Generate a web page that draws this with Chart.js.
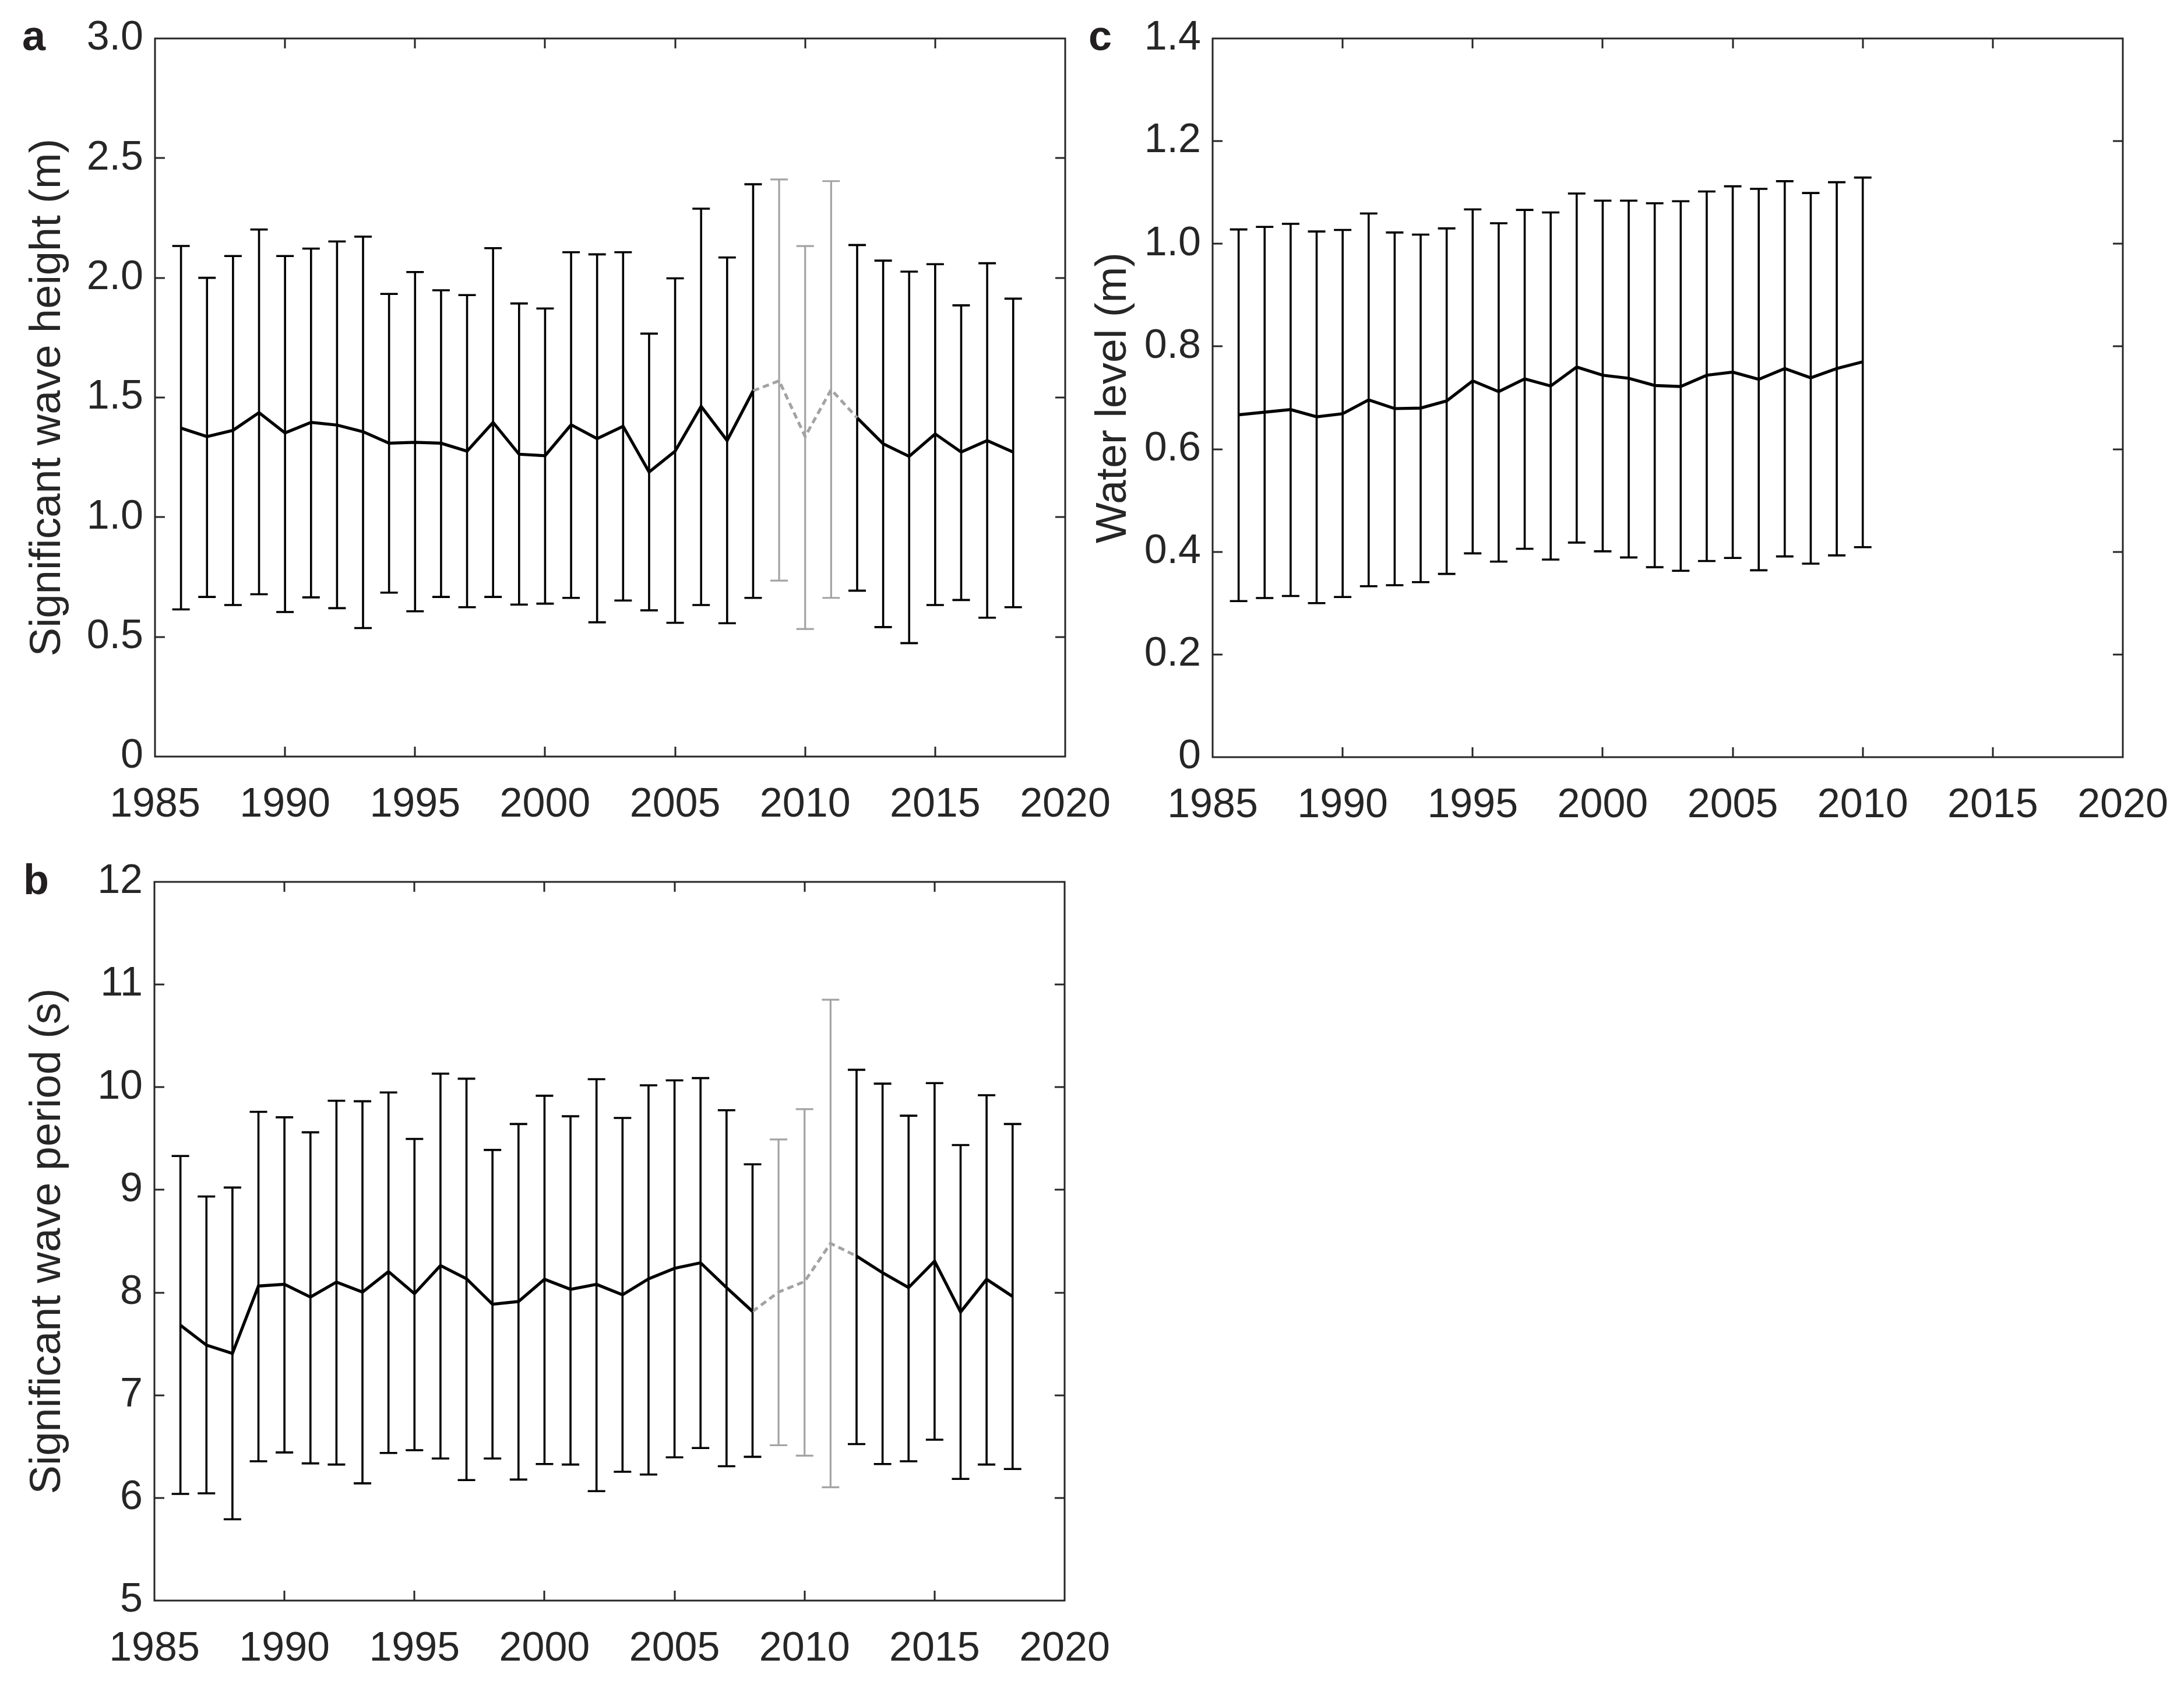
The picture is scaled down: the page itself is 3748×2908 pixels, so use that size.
<!DOCTYPE html>
<html>
<head>
<meta charset="utf-8">
<script src="https://cdn.jsdelivr.net/npm/chart.js@4.4.0/dist/chart.umd.min.js"></script>
<style>
  html, body { margin: 0; padding: 0; background: #ffffff; }
  body { width: 3748px; height: 2908px; position: relative; overflow: hidden; }
  canvas { position: absolute; }
</style>
</head>
<body>
<canvas id="chartA" width="1960" height="1440" style="left:0px;top:0px"></canvas>
<canvas id="chartC" width="1935" height="1440" style="left:1840px;top:0px"></canvas>
<canvas id="chartB" width="1960" height="1468" style="left:0px;top:1440px"></canvas>
<script>
// years shown in panels a and b
var years = [1986, 1987, 1988, 1989, 1990, 1991, 1992, 1993, 1994, 1995, 1996,
  1997, 1998, 1999, 2000, 2001, 2002, 2003, 2004, 2005, 2006, 2007, 2008,
  2009, 2010, 2011, 2012, 2013, 2014, 2015, 2016, 2017, 2018];
// years drawn in grey (incomplete data)
var gapYears = [2009, 2010, 2011];

// a - significant wave height (m)
var hsMean = [1.372, 1.337, 1.363, 1.437, 1.352, 1.396, 1.385, 1.357, 1.309, 1.313, 1.309,
  1.276, 1.396, 1.263, 1.257, 1.386, 1.328, 1.380, 1.189, 1.276, 1.463, 1.320, 1.528,
  1.570, 1.337, 1.533, 1.415, 1.307, 1.254, 1.348, 1.272, 1.320, 1.272];
var hsHigh = [2.133, 2.000, 2.091, 2.202, 2.091, 2.122, 2.152, 2.172, 1.933, 2.024, 1.948,
  1.928, 2.124, 1.893, 1.872, 2.107, 2.098, 2.107, 1.767, 1.998, 2.289, 2.085, 2.391,
  2.411, 2.133, 2.404, 2.137, 2.072, 2.026, 2.057, 1.885, 2.061, 1.913];
var hsLow = [0.615, 0.667, 0.633, 0.678, 0.604, 0.665, 0.620, 0.537, 0.685, 0.607, 0.667,
  0.624, 0.667, 0.635, 0.639, 0.663, 0.561, 0.652, 0.611, 0.559, 0.633, 0.557, 0.663,
  0.735, 0.533, 0.663, 0.693, 0.541, 0.474, 0.633, 0.654, 0.580, 0.624];

// b - significant wave period (s)
var tpMean = [7.682, 7.488, 7.407, 8.064, 8.080, 7.956, 8.102, 8.005, 8.204, 7.989, 8.263,
  8.134, 7.886, 7.913, 8.129, 8.032, 8.080, 7.978, 8.134, 8.236, 8.290, 8.048, 7.816,
  8.005, 8.107, 8.479, 8.355, 8.193, 8.048, 8.306, 7.811, 8.129, 7.962];
var tpHigh = [9.330, 8.936, 9.023, 9.760, 9.707, 9.561, 9.868, 9.863, 9.949, 9.496, 10.132,
  10.083, 9.389, 9.642, 9.917, 9.717, 10.078, 9.701, 10.019, 10.067, 10.089, 9.776, 9.249,
  9.491, 9.787, 10.853, 10.170, 10.035, 9.723, 10.040, 9.437, 9.922, 9.642];
var tpLow = [6.039, 6.045, 5.792, 6.357, 6.443, 6.336, 6.325, 6.142, 6.438, 6.465, 6.384,
  6.174, 6.384, 6.179, 6.330, 6.325, 6.066, 6.255, 6.228, 6.395, 6.486, 6.309, 6.400,
  6.513, 6.411, 6.104, 6.524, 6.330, 6.357, 6.567, 6.185, 6.325, 6.282];

// c - water level (m), only up to 2010
var wlYears = [1986, 1987, 1988, 1989, 1990, 1991, 1992, 1993, 1994, 1995, 1996, 1997,
  1998, 1999, 2000, 2001, 2002, 2003, 2004, 2005, 2006, 2007, 2008, 2009, 2010];
var wlMean = [0.667, 0.672, 0.677, 0.663, 0.669, 0.696, 0.679, 0.680, 0.694, 0.733, 0.712,
  0.737, 0.723, 0.760, 0.744, 0.738, 0.724, 0.722, 0.744, 0.750, 0.736, 0.757, 0.739,
  0.757, 0.770];
var wlHigh = [1.028, 1.033, 1.039, 1.024, 1.027, 1.059, 1.022, 1.018, 1.030, 1.067, 1.040,
  1.066, 1.061, 1.098, 1.084, 1.084, 1.079, 1.083, 1.102, 1.112, 1.107, 1.122, 1.099,
  1.120, 1.129];
var wlLow = [0.304, 0.310, 0.314, 0.300, 0.312, 0.333, 0.335, 0.341, 0.357, 0.397, 0.381,
  0.406, 0.385, 0.418, 0.401, 0.389, 0.370, 0.363, 0.382, 0.388, 0.364, 0.391, 0.377,
  0.393, 0.409];

// axis ranges / tick steps
var xMin = 1985, xMax = 2020, xStep = 5;

var AXIS_COLOR = '#262626';
var GREY = '#a3a3a3';
var FONT = '"Liberation Sans", Arial, sans-serif';

// error bars, drawn under the mean line
var errorBarPlugin = {
  id: 'errorBars',
  beforeDatasetsDraw: function(chart, args, opts) {
    var ctx = chart.ctx, xs = chart.scales.x, ys = chart.scales.y;
    var cap = 15;
    ctx.save();
    ctx.lineCap = 'butt';
    for (var i = 0; i < opts.years.length; i++) {
      var px = xs.getPixelForValue(opts.years[i]);
      var top = ys.getPixelForValue(opts.high[i]);
      var bot = ys.getPixelForValue(opts.low[i]);
      var grey = opts.grey.indexOf(opts.years[i]) >= 0;
      ctx.strokeStyle = grey ? GREY : '#000000';
      ctx.lineWidth = grey ? 3.2 : 3.6;
      ctx.beginPath();
      ctx.moveTo(px, top); ctx.lineTo(px, bot);
      ctx.moveTo(px - cap, top); ctx.lineTo(px + cap, top);
      ctx.moveTo(px - cap, bot); ctx.lineTo(px + cap, bot);
      ctx.stroke();
    }
    ctx.restore();
  }
};

// matlab style box with inward ticks + panel letter
var boxPlugin = {
  id: 'boxAxes',
  afterDraw: function(chart, args, opts) {
    var ctx = chart.ctx, a = chart.chartArea;
    var xs = chart.scales.x, ys = chart.scales.y;
    var len = 17;
    ctx.save();
    ctx.strokeStyle = AXIS_COLOR;
    ctx.lineWidth = 3;
    ctx.strokeRect(a.left, a.top, a.right - a.left, a.bottom - a.top);
    ctx.beginPath();
    xs.ticks.forEach(function(t) {
      if (t.value <= xs.min || t.value >= xs.max) return;
      var px = Math.round(xs.getPixelForValue(t.value));
      ctx.moveTo(px, a.bottom); ctx.lineTo(px, a.bottom - len);
      ctx.moveTo(px, a.top); ctx.lineTo(px, a.top + len);
    });
    ys.ticks.forEach(function(t) {
      if (t.value <= ys.min || t.value >= ys.max) return;
      var py = Math.round(ys.getPixelForValue(t.value));
      ctx.moveTo(a.left, py); ctx.lineTo(a.left + len, py);
      ctx.moveTo(a.right, py); ctx.lineTo(a.right - len, py);
    });
    ctx.stroke();
    ctx.fillStyle = '#231f20';
    ctx.font = 'bold 72px ' + FONT;
    ctx.textBaseline = 'alphabetic';
    ctx.fillText(opts.letter, opts.lx, opts.ly);
    ctx.restore();
  }
};

var toPoints = function(xv, yv, skip) {
  return xv.map(function(x, i) {
    return { x: x, y: (skip && skip.indexOf(x) >= 0) ? null : yv[i] };
  });
};

var drawPanel = function(elementId, p) {
  var datasets = [{
    data: toPoints(p.years, p.mean, p.grey),
    borderColor: '#000000',
    borderWidth: 5.2,
    pointRadius: 0,
    spanGaps: false,
    tension: 0
  }];
  if (p.grey.length) {
    // dashed grey segment across the gap years
    var first = p.years.indexOf(p.grey[0]) - 1;
    var last = p.years.indexOf(p.grey[p.grey.length - 1]) + 1;
    datasets.push({
      data: toPoints(p.years.slice(first, last + 1), p.mean.slice(first, last + 1)),
      borderColor: GREY,
      borderWidth: 5,
      borderDash: [11, 7],
      pointRadius: 0,
      tension: 0
    });
  }

  var ctx = document.getElementById(elementId).getContext('2d');
  return new Chart(ctx, {
    type: 'line',
    data: { datasets: datasets },
    options: {
      responsive: false,
      animation: false,
      devicePixelRatio: 1,
      layout: { padding: p.padding, autoPadding: false },
      plugins: {
        legend: { display: false },
        tooltip: { enabled: false },
        errorBars: { years: p.years, high: p.high, low: p.low, grey: p.grey },
        boxAxes: { letter: p.letter, lx: p.lx, ly: p.ly }
      },
      scales: {
        x: {
          type: 'linear',
          min: xMin, max: xMax,
          grid: { display: false, drawTicks: false },
          border: { display: false },
          ticks: {
            stepSize: xStep,
            padding: 42,
            color: AXIS_COLOR,
            font: { family: FONT, size: 70 },
            callback: function(v) { return String(v); }
          },
          afterFit: function(s) { s.height = p.xHeight; }
        },
        y: {
          min: p.yMin, max: p.yMax,
          grid: { display: false, drawTicks: false },
          border: { display: false },
          ticks: {
            stepSize: p.yStep,
            padding: 20,
            color: AXIS_COLOR,
            font: { family: FONT, size: 70 },
            callback: p.yFormat
          },
          title: {
            display: true,
            text: p.title,
            color: AXIS_COLOR,
            font: { family: FONT, size: 74 },
            padding: { top: p.titlePad, bottom: 0 }
          },
          afterFit: function(s) { s.width = p.yWidth; }
        }
      }
    },
    plugins: [errorBarPlugin, boxPlugin]
  });
};

var oneDecimal = function(v) { return v === 0 ? '0' : v.toFixed(1); };

drawPanel('chartA', {
  years: years, mean: hsMean, high: hsHigh, low: hsLow, grey: gapYears,
  yMin: 0, yMax: 3, yStep: 0.5, yFormat: oneDecimal,
  title: 'Significant wave height (m)', titlePad: 38,
  padding: { top: 66, right: 132, bottom: 0, left: 0 },
  yWidth: 266, xHeight: 142,
  letter: 'a', lx: 38, ly: 86
});

drawPanel('chartC', {
  years: wlYears, mean: wlMean, high: wlHigh, low: wlLow, grey: [],
  yMin: 0, yMax: 1.4, yStep: 0.2, yFormat: oneDecimal,
  title: 'Water level (m)', titlePad: 27,
  padding: { top: 66, right: 132, bottom: 0, left: 0 },
  yWidth: 241, xHeight: 141,
  letter: 'c', lx: 28, ly: 86
});

drawPanel('chartB', {
  years: years, mean: tpMean, high: tpHigh, low: tpLow, grey: gapYears,
  yMin: 5, yMax: 12, yStep: 1, yFormat: function(v) { return String(v); },
  title: 'Significant wave period (s)', titlePad: 38,
  padding: { top: 73, right: 133, bottom: 0, left: 0 },
  yWidth: 265, xHeight: 162,
  letter: 'b', lx: 40, ly: 94
});
</script>
</body>
</html>
